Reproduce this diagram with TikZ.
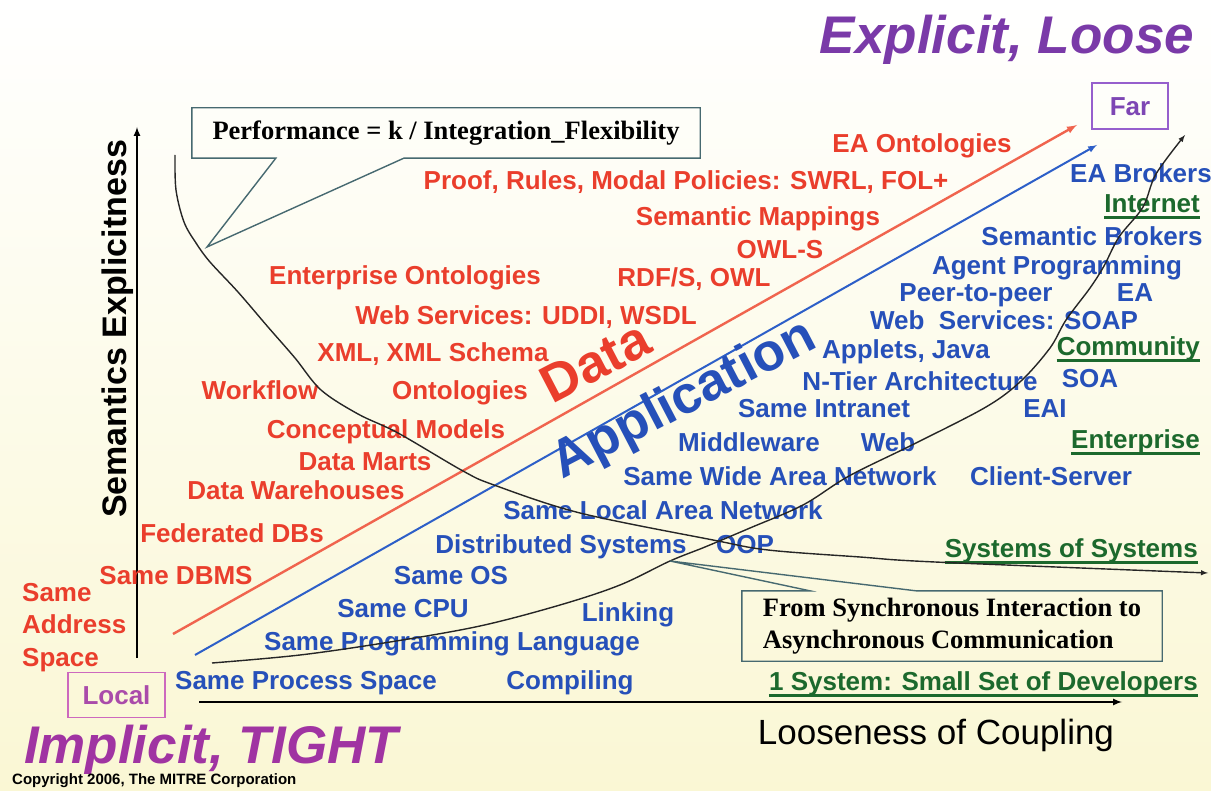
\documentclass[tikz,border=0pt]{standalone}
\usepackage{fontspec}
\setmainfont{Liberation Sans}
\newfontfamily\timesbox{Liberation Serif}
\usetikzlibrary{arrows}

\definecolor{bgyel}{RGB}{250,247,212}
\definecolor{datared}{RGB}{234,62,44}
\definecolor{dataline}{RGB}{240,100,78}
\definecolor{appblue}{RGB}{38,80,185}
\definecolor{appline}{RGB}{45,95,200}
\definecolor{netgreen}{RGB}{28,105,45}
\definecolor{explpurple}{RGB}{122,58,168}
\definecolor{implpurple}{RGB}{160,52,162}
\definecolor{localpink}{RGB}{205,105,190}
\definecolor{localtxt}{RGB}{170,75,170}
\definecolor{farpurple}{RGB}{150,95,205}
\definecolor{fartxt}{RGB}{125,70,180}
\definecolor{boxline}{RGB}{70,105,112}

\begin{document}
\begin{tikzpicture}[x=1pt,y=-1pt,
  lbl/.style={inner sep=0pt, text height=18.6pt, text depth=0pt, font=\fontsize{26}{28}\selectfont\bfseries},
  datatxt/.style={lbl, text=datared},
  apptxt/.style={lbl, text=appblue},
  nettxt/.style={lbl, text=netgreen, anchor=east},
  uline/.style={netgreen, line width=2.5pt},
  axis/.style={line width=2pt, -latex},
  curve/.style={black!85, line width=1.4pt, -latex},
  callout/.style={draw=boxline, line width=1.4pt},
  boxtxt/.style={font=\timesbox\fontsize{26.5}{32}\selectfont\bfseries, align=left, inner sep=0pt}]

\shade[top color=white, bottom color=bgyel] (0,0) rectangle (1211,791);
\useasboundingbox (0,0) rectangle (1211,791);

% titles
\node[inner sep=0pt, text height=37pt, text depth=0pt, font=\fontsize{53}{56}\selectfont\bfseries\itshape, text=explpurple] (expl) at (1007,35) {Explicit, Loose};
\node[inner sep=0pt, text height=37pt, text depth=0pt, font=\fontsize{53}{56}\selectfont\bfseries\itshape, text=implpurple] (impl) at (211,745) {Implicit, TIGHT};
\node[inner sep=0pt, anchor=west, font=\fontsize{15}{17}\selectfont\bfseries] (copy) at (12,781) {Copyright 2006, The MITRE Corporation};

% axes
\coordinate (yorig) at (137,658);
\coordinate (ytop) at (137,127);
\coordinate (xorig) at (199,702);
\coordinate (xend) at (1122,702);
\draw[axis] (yorig) -- (ytop);
\draw[axis] (xorig) -- (xend);
\node[inner sep=0pt, rotate=90, text height=24.5pt, text depth=0pt, font=\fontsize{34}{36}\selectfont\bfseries] (sem) at (114,329) {Semantics Explicitness};
\node[inner sep=0pt, text height=25pt, text depth=0pt, font=\fontsize{35}{40}\selectfont] (loose) at (936,732) {Looseness of Coupling};

\node[lbl, draw=localpink, line width=1.3pt, minimum width=97pt, minimum height=45pt, text=localtxt] (local) at (116.5,695) {Local};
\node[lbl, draw=farpurple, line width=1.3pt, minimum width=76pt, minimum height=46pt, text=fartxt] (far) at (1130,106) {Far};

% data and application lines
\coordinate (d0) at (173,634);
\coordinate (d1) at (1077,125);
\coordinate (a0) at (195,655);
\coordinate (a1) at (1097,145);
\draw[dataline, line width=2.4pt, -latex] (d0) -- (d1);
\draw[appline, line width=2pt, -latex] (a0) -- (a1);
\node[datatxt, rotate=27.5, text height=38pt, font=\fontsize{53}{56}\selectfont\bfseries] (data) at (595,361) {Data};
\node[apptxt, rotate=27.5, text height=38pt, font=\fontsize{53}{56}\selectfont\bfseries] (appl) at (682,396) {Application};

% red labels
\node[datatxt] (eaonto) at (922,143) {EA Ontologies};
\node[datatxt] (proof) at (686,180) {Proof, Rules, Modal Policies: SWRL, FOL+};
\node[datatxt] (semmap) at (758,216) {Semantic Mappings};
\node[datatxt] (owls) at (780,249) {OWL-S};
\node[datatxt] (entonto) at (405,275) {Enterprise Ontologies};
\node[datatxt] (rdfs) at (694,277) {RDF/S, OWL};
\node[datatxt] (uddi) at (526,315) {Web Services: UDDI, WSDL};
\node[datatxt] (xml) at (433,352) {XML, XML Schema};
\node[datatxt] (workflow) at (260,390) {Workflow};
\node[datatxt] (onto) at (460,390) {Ontologies};
\node[datatxt] (concept) at (386,429) {Conceptual Models};
\node[datatxt] (marts) at (365,461) {Data Marts};
\node[datatxt] (whouse) at (296,490) {Data Warehouses};
\node[datatxt] (feddb) at (232,533) {Federated DBs};
\node[datatxt] (dbms) at (176,575) {Same DBMS};
\node[datatxt, anchor=west] (same) at (22,592) {Same};
\node[datatxt, anchor=west] (addr) at (22,624) {Address};
\node[datatxt, anchor=west] (space) at (22,657) {Space};

% blue labels
\node[apptxt] (eabrk) at (1141,173) {EA Brokers};
\node[apptxt] (sembrk) at (1092,236) {Semantic Brokers};
\node[apptxt] (agent) at (1057,265) {Agent Programming};
\node[apptxt] (ptp) at (976,292) {Peer-to-peer};
\node[apptxt] (ea) at (1135,292) {EA};
\node[apptxt] (soap) at (1004,320) {Web~~Services: SOAP};
\node[apptxt] (applet) at (906,349) {Applets, Java};
\node[apptxt] (ntier) at (920,381) {N-Tier Architecture};
\node[apptxt] (soa) at (1090,378) {SOA};
\node[apptxt] (intranet) at (824,408) {Same Intranet};
\node[apptxt] (eai) at (1045,408) {EAI};
\node[apptxt] (mware) at (749,442) {Middleware};
\node[apptxt] (web) at (888,442) {Web};
\node[apptxt] (wan) at (780,476) {Same Wide Area Network};
\node[apptxt] (clsrv) at (1051,476) {Client-Server};
\node[apptxt] (lan) at (663,510) {Same Local Area Network};
\node[apptxt] (dist) at (561,544) {Distributed Systems};
\node[apptxt] (oop) at (745,544) {OOP};
\node[apptxt] (os) at (451,575) {Same OS};
\node[apptxt] (cpu) at (403,608) {Same CPU};
\node[apptxt] (link) at (628,612) {Linking};
\node[apptxt] (lang) at (452,641) {Same Programming Language};
\node[apptxt] (proc) at (306,680) {Same Process Space};
\node[apptxt] (comp) at (570,680) {Compiling};

% green scale
\node[nettxt] (inet) at (1200,203) {Internet};
\node[nettxt] (comm) at (1200,346) {Community};
\node[nettxt] (entp) at (1200,439) {Enterprise};
\node[nettxt] (sos) at (1198,548) {Systems of Systems};
\node[nettxt] (onesys) at (1198,681) {1 System: Small Set of Developers};
\draw[uline] ([yshift=-5pt]inet.base west) -- ([yshift=-5pt]inet.base east);
\draw[uline] ([yshift=-5pt]comm.base west) -- ([yshift=-5pt]comm.base east);
\draw[uline] ([yshift=-5pt]entp.base west) -- ([yshift=-5pt]entp.base east);
\draw[uline] ([yshift=-5pt]sos.base west) -- ([yshift=-5pt]sos.base east);
\draw[uline] ([yshift=-5pt]onesys.base west) -- ([yshift=-5pt]onesys.base east);

% curves
\draw[curve] plot[smooth, tension=0.55] coordinates {(175,155) (176,190) (184,222) (196,243) (210,262) (238,292) (268,327) (295,358) (321,390) (358,414) (398,433) (463,471) (494,485) (580,513) (713,540) (768,550) (860,557) (935,562) (1208,573)};
\draw[curve] plot[smooth, tension=0.55] coordinates {(212,663) (300,655) (390,642) (480,626) (560,605) (620,585) (670,561) (705,547) (750,528) (803,505) (849,476) (914,444) (986,407) (1021,381) (1050,348) (1066,320) (1090,288) (1104,266) (1119,237) (1143,207) (1156,174) (1185,135)};

% callouts
\node[boxtxt, minimum width=508pt, minimum height=50pt] (perf) at (446,133) {Performance = k / Integration\_Flexibility};
\coordinate (perftip) at (207,247);
\draw[callout] ([xshift=84pt]perf.south west) -- (perftip) -- ([xshift=212pt]perf.south west) -- (perf.south east) -- (perf.north east) -- (perf.north west) -- (perf.south west) -- cycle;

\node[boxtxt, minimum width=420pt, minimum height=70pt] (sync) at (952,626) {From Synchronous Interaction to\\Asynchronous Communication};
\coordinate (synctip) at (670,561);
\draw[callout] ([xshift=68pt]sync.north west) -- (synctip) -- ([xshift=174pt]sync.north west) -- (sync.north east) -- (sync.south east) -- (sync.south west) -- (sync.north west) -- cycle;
\end{tikzpicture}
\end{document}
